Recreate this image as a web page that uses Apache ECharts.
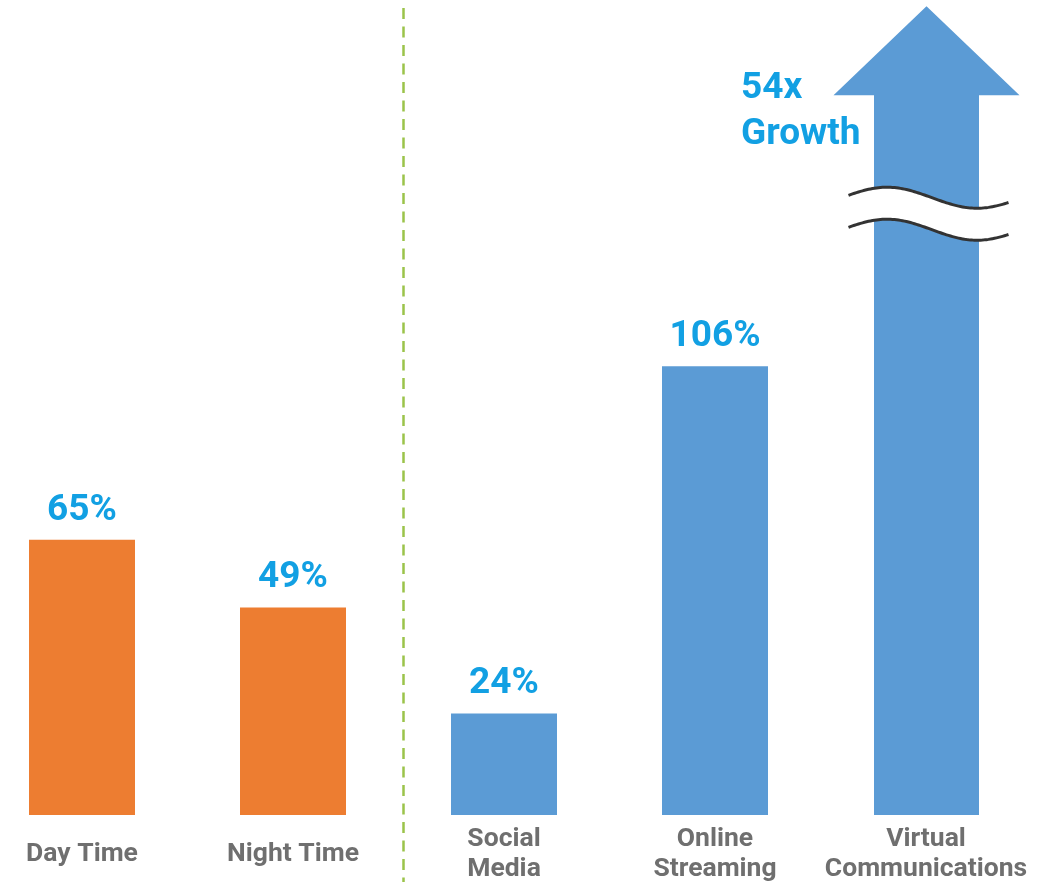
<!DOCTYPE html>
<html>
<head>
<meta charset="utf-8">
<script src="https://cdn.jsdelivr.net/npm/echarts@6/dist/echarts.min.js"></script>
<style>
  html, body { margin: 0; padding: 0; background: #ffffff; }
  #chart { width: 1045px; height: 882px; }
</style>
</head>
<body>
<div id="chart"></div>
<script>
// ---- data ----
const categories = ['Day Time', 'Night Time', 'Social\nMedia', 'Online\nStreaming', 'Virtual\nCommunications'];
const barValues = [65, 49, 24, 106, null];       // percent growth
const barGroups = ['time', 'time', 'activity', 'activity', 'activity'];
const arrowCategoryIndex = 4;                     // Virtual Communications
const arrowCappedValue = 191;                     // axis-capped (broken) value
const arrowBreakValue = 142;                      // where the axis break is drawn
const growthMultiple = 54;                        // 54x growth

const ORANGE = '#ed7d31';
const BLUE = '#5b9bd5';
const LABEL_BLUE = '#12a0e3';
const GRAY = '#6f6f6f';
const groupColors = { time: ORANGE, activity: BLUE };

const chart = echarts.init(document.getElementById('chart'), null, { renderer: 'canvas' });

function renderArrow(params, api) {
  const idx = api.value(0);
  const base = api.coord([idx, 0]);
  const tip = api.coord([idx, api.value(1)]);
  const breakY = api.coord([idx, api.value(2)])[1];
  const cx = base[0] + 0.5;
  const shaftHalf = 52.5, headHalf = 93, headH = 89;
  const headBaseY = tip[1] + headH;
  const arrowPts = [
    [cx, tip[1]],
    [cx + headHalf, headBaseY],
    [cx + shaftHalf, headBaseY],
    [cx + shaftHalf, base[1]],
    [cx - shaftHalf, base[1]],
    [cx - shaftHalf, headBaseY],
    [cx - headHalf, headBaseY]
  ];
  function wave(yc) {
    const pts = [];
    const x0 = cx - 78, x1 = cx + 83, xPeak = cx - 39.5;
    for (let x = x0; x <= x1; x += 2) {
      pts.push([x, yc - 10.5 * Math.cos(2 * Math.PI * (x - xPeak) / 180)]);
    }
    return pts;
  }
  const w1 = wave(breakY - 16);
  const w2 = wave(breakY + 16);
  const band = w1.concat(w2.slice().reverse());
  return {
    type: 'group',
    children: [
      { type: 'polygon', shape: { points: arrowPts }, style: { fill: BLUE } },
      { type: 'polygon', shape: { points: band }, style: { fill: '#ffffff' } },
      { type: 'polyline', shape: { points: w1 }, style: { stroke: '#333333', lineWidth: 3, fill: null } },
      { type: 'polyline', shape: { points: w2 }, style: { stroke: '#333333', lineWidth: 3, fill: null } },
      {
        type: 'text',
        x: cx - shaftHalf - 133,
        y: tip[1] + 105.5,
        style: {
          text: api.value(3) + 'x\nGrowth',
          fill: LABEL_BLUE,
          font: 'bold 37px Roboto',
          lineHeight: 46.5,
          align: 'left',
          verticalAlign: 'middle'
        }
      }
    ]
  };
}

const option = {
  animation: false,
  backgroundColor: '#ffffff',
  grid: { left: -23.5, width: 1055, top: 2, bottom: 67, containLabel: false, outerBoundsMode: 'none' },
  xAxis: {
    type: 'category',
    data: categories,
    axisLine: { show: false },
    axisTick: { show: false },
    axisLabel: {
      interval: 0,
      margin: 39.5,
      verticalAlign: 'middle',
      color: GRAY,
      fontFamily: 'Roboto',
      fontWeight: 'bold',
      fontSize: 26.5,
      lineHeight: 30
    }
  },
  yAxis: {
    type: 'value', min: 0, max: 192,
    show: false,
    splitLine: { show: false }
  },
  series: [
    {
      type: 'bar',
      barWidth: 106,
      data: barValues.map((v, i) => v == null ? '-' : ({ value: v, itemStyle: { color: groupColors[barGroups[i]] } })),
      label: {
        show: true,
        position: 'top',
        distance: 11,
        formatter: '{c}%',
        color: LABEL_BLUE,
        fontFamily: 'Roboto',
        fontWeight: 'bold',
        fontSize: 37,
        lineHeight: 37
      }
    },
    {
      type: 'custom',
      renderItem: renderArrow,
      data: [[arrowCategoryIndex, arrowCappedValue, arrowBreakValue, growthMultiple]],
      z: 3
    }
  ],
  graphic: [
    {
      type: 'line',
      shape: { x1: 403.5, y1: 8, x2: 403.5, y2: 882 },
      style: { stroke: '#9bc34a', lineWidth: 2.5, lineDash: [11, 7.5] }
    }
  ]
};
chart.setOption(option);
</script>
</body>
</html>
